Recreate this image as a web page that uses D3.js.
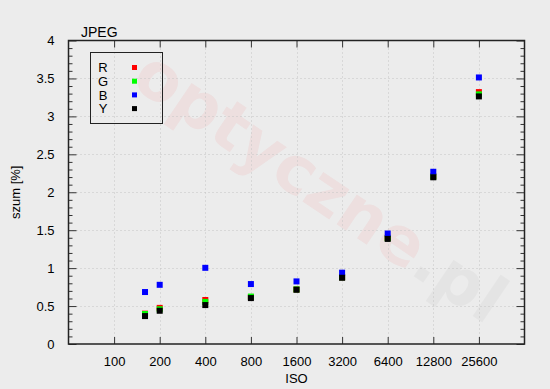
<!DOCTYPE html>
<html>
<head>
<meta charset="utf-8">
<script src="https://cdn.jsdelivr.net/npm/d3@7"></script>
<style>
body { margin: 0; background: #ececec; }
svg { display: block; font-family: "Liberation Sans", Arial, sans-serif; }
</style>
</head>
<body>
<svg></svg>
<script>
// ISO values of the measured points
var iso = [160, 200, 400, 800, 1600, 3200, 6400, 12800, 25600];
var rVals = [0.40, 0.476, 0.58, 0.62, 0.72, 0.88, 1.40, 2.21, 3.32];
var gVals = [0.395, 0.458, 0.555, 0.625, 0.72, 0.88, 1.395, 2.205, 3.29];
var bVals = [0.685, 0.78, 1.004, 0.79, 0.825, 0.94, 1.456, 2.27, 3.513];
var yVals = [0.368, 0.438, 0.513, 0.605, 0.715, 0.873, 1.385, 2.197, 3.263];
var xTicks = [100, 200, 400, 800, 1600, 3200, 6400, 12800, 25600];
var yTicks = [0, 0.5, 1, 1.5, 2, 2.5, 3, 3.5, 4];

var series = [
  {name: "R", color: "#ff0000", values: rVals},
  {name: "G", color: "#00ff00", values: gVals},
  {name: "B", color: "#0000ff", values: bVals},
  {name: "Y", color: "#000000", values: yVals}
];

var screen = {width: 550, height: 389};
var plotBox = {left: 68.5, right: 524.5, top: 40.5, bottom: 344};

var svg = d3.select("svg")
  .attr("width", screen.width)
  .attr("height", screen.height);

svg.append("rect")
  .attr("width", screen.width)
  .attr("height", screen.height)
  .attr("fill", "#ececec");

var xScale = d3.scaleLog().base(2)
  .domain([50, 51200])
  .range([plotBox.left, plotBox.right]);

var yScale = d3.scaleLinear()
  .domain([0, 4])
  .range([plotBox.bottom, plotBox.top]);

// watermark
var wm = svg.append("text")
  .attr("transform", "translate(318,190) rotate(34)")
  .attr("text-anchor", "middle")
  .attr("dominant-baseline", "middle")
  .style("font-family", "DejaVu Sans")
  .style("font-weight", "bold")
  .style("font-size", "66px");
wm.append("tspan").attr("fill", "rgba(255,0,0,0.055)").text("optyczne");
wm.append("tspan").attr("fill", "rgba(0,0,0,0.03)").text(".pl");

// grid
var grid = svg.append("g")
  .attr("stroke", "#c4c4c4")
  .attr("stroke-width", 1)
  .attr("stroke-dasharray", "1,3");

grid.selectAll(".gx")
  .data(xTicks)
  .enter()
  .append("line")
  .attr("x1", function(d) { return Math.round(xScale(d)) + 0.5; })
  .attr("x2", function(d) { return Math.round(xScale(d)) + 0.5; })
  .attr("y1", plotBox.top)
  .attr("y2", plotBox.bottom);

grid.selectAll(".gy")
  .data(yTicks.slice(1, -1))
  .enter()
  .append("line")
  .attr("x1", plotBox.left)
  .attr("x2", plotBox.right)
  .attr("y1", function(d) { return Math.round(yScale(d)) + 0.5; })
  .attr("y2", function(d) { return Math.round(yScale(d)) + 0.5; });

// axes
var xAxisB = d3.axisBottom(xScale).tickValues(xTicks).tickSizeInner(-7).tickSizeOuter(0).tickPadding(13).tickFormat(d3.format("d"));
var xAxisT = d3.axisTop(xScale).tickValues(xTicks).tickSizeInner(-7).tickSizeOuter(0).tickFormat("");

var minorY = d3.range(0, 41).map(function(i) { return i / 10; })
  .filter(function(d) { return Math.round(d * 10) % 5 !== 0; });

var yAxisL = d3.axisLeft(yScale).tickValues(yTicks).tickSizeInner(-8).tickSizeOuter(0).tickPadding(14).tickFormat(d3.format("~g"));
var yAxisR = d3.axisRight(yScale).tickValues(yTicks).tickSizeInner(-8).tickSizeOuter(0).tickFormat("");
var yMinorL = d3.axisLeft(yScale).tickValues(minorY).tickSizeInner(-4).tickSizeOuter(0).tickFormat("");
var yMinorR = d3.axisRight(yScale).tickValues(minorY).tickSizeInner(-4).tickSizeOuter(0).tickFormat("");

function styleAxis(g) {
  g.select(".domain").remove();
  g.selectAll("line").attr("stroke", "#333").attr("stroke-width", 1);
  g.selectAll("text").attr("fill", "#000").style("font-size", "13px");
}

svg.append("g").attr("transform", "translate(0," + plotBox.bottom + ")").call(xAxisB).call(styleAxis);
svg.append("g").attr("transform", "translate(0," + plotBox.top + ")").call(xAxisT).call(styleAxis);
svg.append("g").attr("transform", "translate(" + plotBox.left + ",0)").call(yAxisL).call(styleAxis);
svg.append("g").attr("transform", "translate(" + plotBox.right + ",0)").call(yAxisR).call(styleAxis);
svg.append("g").attr("transform", "translate(" + plotBox.left + ",0)").call(yMinorL).call(styleAxis);
svg.append("g").attr("transform", "translate(" + plotBox.right + ",0)").call(yMinorR).call(styleAxis);

// border
svg.append("rect")
  .attr("x", plotBox.left)
  .attr("y", plotBox.top)
  .attr("width", plotBox.right - plotBox.left)
  .attr("height", plotBox.bottom - plotBox.top)
  .attr("fill", "none")
  .attr("stroke", "#222")
  .attr("stroke-width", 1.5);

// points
var size = 6;
series.forEach(function(s) {
  svg.append("g")
    .selectAll("rect")
    .data(s.values)
    .enter()
    .append("rect")
    .attr("x", function(d, i) { return xScale(iso[i]) - size / 2; })
    .attr("y", function(d) { return yScale(d) - size / 2; })
    .attr("width", size)
    .attr("height", size)
    .attr("fill", s.color);
});

// legend
var legend = svg.append("g");
legend.append("rect")
  .attr("x", 90.5)
  .attr("y", 52.5)
  .attr("width", 72)
  .attr("height", 71)
  .attr("fill", "none")
  .attr("stroke", "#222")
  .attr("stroke-width", 1);

var items = legend.selectAll(".item")
  .data(series)
  .enter()
  .append("g")
  .attr("transform", function(d, i) { return "translate(0," + (67.5 + i * 13.7) + ")"; });

items.append("text")
  .attr("x", 103)
  .attr("y", 0)
  .attr("dy", "0.36em")
  .attr("text-anchor", "middle")
  .style("font-size", "13px")
  .text(function(d) { return d.name; });

items.append("rect")
  .attr("x", 132)
  .attr("y", -2.5)
  .attr("width", 5)
  .attr("height", 5)
  .attr("fill", function(d) { return d.color; });

// title and labels
svg.append("text")
  .attr("x", 81)
  .attr("y", 37)
  .style("font-size", "14px")
  .text("JPEG");

svg.append("text")
  .attr("x", (plotBox.left + plotBox.right) / 2)
  .attr("y", 383)
  .attr("text-anchor", "middle")
  .style("font-size", "13px")
  .text("ISO");

svg.append("text")
  .attr("transform", "translate(20," + ((plotBox.top + plotBox.bottom) / 2) + ") rotate(-90)")
  .attr("text-anchor", "middle")
  .style("font-size", "13px")
  .text("szum [%]");
</script>
</body>
</html>
